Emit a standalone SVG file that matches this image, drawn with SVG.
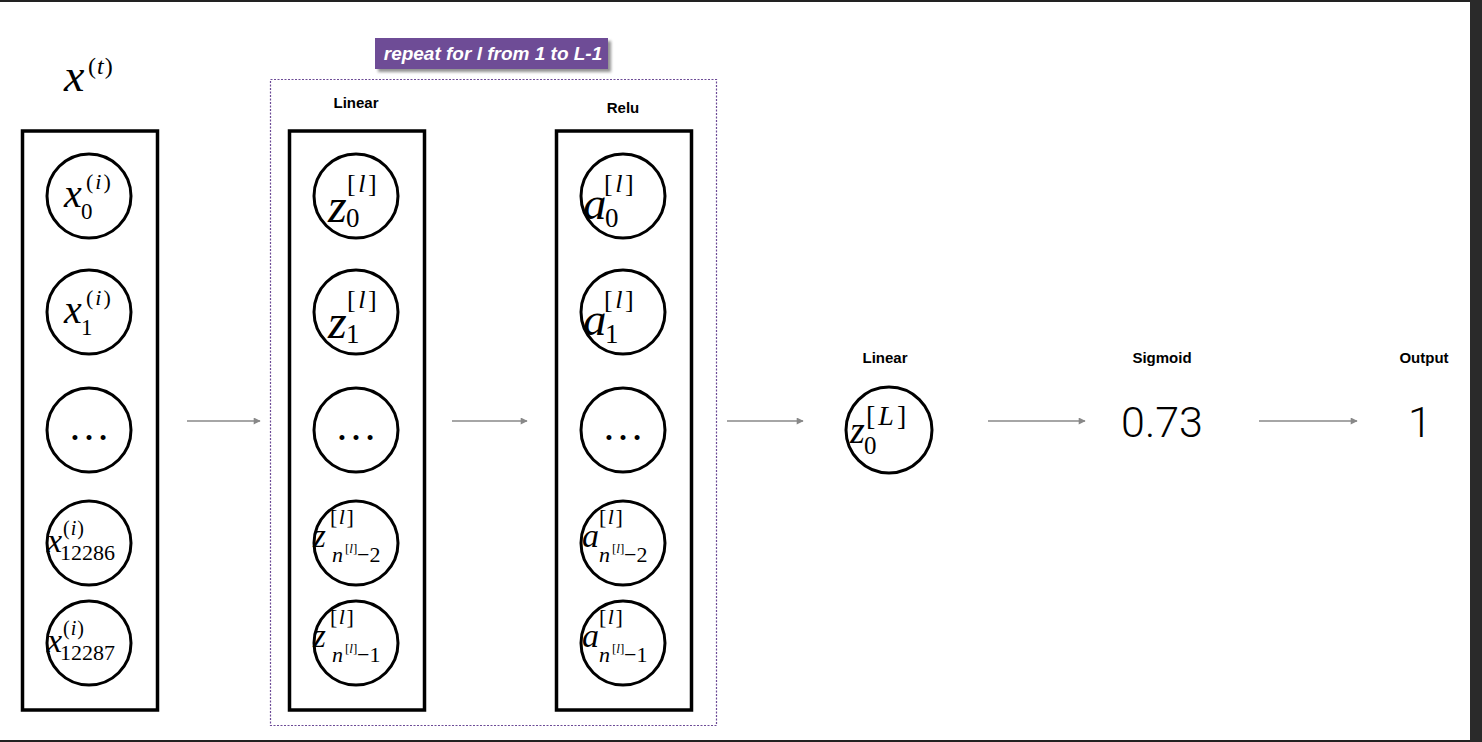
<svg xmlns="http://www.w3.org/2000/svg" width="1482" height="742" viewBox="0 0 1482 742">
<style>
.box{fill:none;stroke:#000;stroke-width:3.5}
.nd{fill:#fff;stroke:#000;stroke-width:3}
.lbl{font-family:"Liberation Sans",Arial,sans-serif;font-weight:bold;font-size:15px;fill:#000;text-anchor:middle}
.m{font-family:"Liberation Serif","Times New Roman",serif;fill:#000}
.i{font-style:italic}
.big{font-family:Roboto,"Liberation Sans",Arial,sans-serif;font-weight:300;font-size:43px;fill:#000;text-anchor:middle}
.conn line{stroke:#888;stroke-width:1.5}
</style>
<defs>
<marker id="ah" viewBox="0 0 10 10" refX="9" refY="5" markerWidth="9" markerHeight="7" markerUnits="userSpaceOnUse" orient="auto">
<path d="M0,0 L10,5 L0,10 z" fill="#888"/>
</marker>
<filter id="sh" x="-10%" y="-20%" width="130%" height="160%">
<feGaussianBlur stdDeviation="1.5"/>
</filter>
</defs>
<rect x="0" y="0" width="1482" height="742" fill="#fff"/>
<rect x="0" y="0" width="1482" height="2" fill="#222"/>
<rect x="0" y="740" width="1482" height="2" fill="#222"/>
<rect x="1470" y="0" width="12" height="742" fill="#2a2a2a"/>

<!-- repeat region -->
<g id="repeat">
<rect x="270.5" y="79.5" width="446" height="646" fill="none" stroke="#6c4a96" stroke-width="1.2" stroke-dasharray="2,1.5"/>
<rect x="378" y="41" width="233" height="31" fill="#777" filter="url(#sh)" opacity="0.8"/>
<rect x="375" y="38" width="233" height="31" fill="#6e4c96"/>
<text x="493" y="60" font-family="Liberation Sans,Arial,sans-serif" font-weight="bold" font-style="italic" font-size="19" fill="#fff" text-anchor="middle">repeat for l from 1 to L-1</text>
</g>

<!-- input label -->
<g id="xt-label">
<text class="m i" x="64" y="91" font-size="46">x</text>
<text class="m" x="88" y="74" font-size="24" letter-spacing="1">(<tspan class="i">t</tspan>)</text>
</g>

<!-- column 1: inputs -->
<g id="input-layer">
<rect class="box" x="22.5" y="131" width="135" height="579"/>
<g id="x0"><circle class="nd" cx="89" cy="196" r="42"/>
<text class="m i" x="64" y="207" font-size="40">x</text>
<text class="m" x="86" y="189" font-size="22" letter-spacing="2">(<tspan class="i">i</tspan>)</text>
<text class="m" x="81" y="219" font-size="23">0</text></g>
<g id="x1"><circle class="nd" cx="89" cy="312" r="42"/>
<text class="m i" x="64" y="323" font-size="40">x</text>
<text class="m" x="86" y="305" font-size="22" letter-spacing="2">(<tspan class="i">i</tspan>)</text>
<text class="m" x="81" y="335" font-size="23">1</text></g>
<g id="xdots"><circle class="nd" cx="89" cy="430" r="42"/>
<text class="m" x="89" y="440" font-size="42" text-anchor="middle">…</text></g>
<g id="x12286"><circle class="nd" cx="89" cy="543" r="42"/>
<text class="m i" x="47" y="552" font-size="34">x</text>
<text class="m" x="63" y="535" font-size="20" letter-spacing="1">(<tspan class="i">i</tspan>)</text>
<text class="m" x="60" y="560" font-size="22">12286</text></g>
<g id="x12287"><circle class="nd" cx="89" cy="643" r="42"/>
<text class="m i" x="47" y="652" font-size="34">x</text>
<text class="m" x="63" y="635" font-size="20" letter-spacing="1">(<tspan class="i">i</tspan>)</text>
<text class="m" x="60" y="660" font-size="22">12287</text></g>
</g>

<!-- column 2: linear -->
<g id="linear-layer">
<text class="lbl" x="356" y="108">Linear</text>
<rect class="box" x="289.5" y="131" width="135" height="579"/>
<g id="z0"><circle class="nd" cx="356" cy="196" r="42"/>
<text class="m i" x="328" y="222" font-size="48">z</text>
<text class="m" x="347" y="192" font-size="26" letter-spacing="2.5">[<tspan class="i">l</tspan>]</text>
<text class="m" x="346" y="227" font-size="27">0</text></g>
<g id="z1"><circle class="nd" cx="356" cy="312" r="42"/>
<text class="m i" x="328" y="338" font-size="48">z</text>
<text class="m" x="347" y="308" font-size="26" letter-spacing="2.5">[<tspan class="i">l</tspan>]</text>
<text class="m" x="346" y="343" font-size="27">1</text></g>
<g id="zdots"><circle class="nd" cx="356" cy="430" r="42"/>
<text class="m" x="356" y="440" font-size="42" text-anchor="middle">…</text></g>
<g id="zn2"><circle class="nd" cx="356" cy="543" r="42"/>
<text class="m i" x="313" y="547" font-size="33">z</text>
<text class="m" x="330" y="524" font-size="22" letter-spacing="1.5">[<tspan class="i">l</tspan>]</text>
<text class="m i" x="332" y="562" font-size="22">n</text>
<text class="m" x="345" y="553" font-size="13">[<tspan class="i">l</tspan>]</text>
<text class="m" x="357" y="562" font-size="22">−2</text></g>
<g id="zn1"><circle class="nd" cx="356" cy="643" r="42"/>
<text class="m i" x="313" y="647" font-size="33">z</text>
<text class="m" x="330" y="624" font-size="22" letter-spacing="1.5">[<tspan class="i">l</tspan>]</text>
<text class="m i" x="332" y="662" font-size="22">n</text>
<text class="m" x="345" y="653" font-size="13">[<tspan class="i">l</tspan>]</text>
<text class="m" x="357" y="662" font-size="22">−1</text></g>
</g>

<!-- column 3: relu -->
<g id="relu-layer">
<text class="lbl" x="623" y="113">Relu</text>
<rect class="box" x="556.5" y="131" width="135" height="579"/>
<g id="a0"><circle class="nd" cx="623" cy="196" r="42"/>
<text class="m i" x="583" y="219" font-size="47">a</text>
<text class="m" x="604" y="192" font-size="26" letter-spacing="2.5">[<tspan class="i">l</tspan>]</text>
<text class="m" x="605" y="227" font-size="27">0</text></g>
<g id="a1"><circle class="nd" cx="623" cy="312" r="42"/>
<text class="m i" x="583" y="335" font-size="47">a</text>
<text class="m" x="604" y="308" font-size="26" letter-spacing="2.5">[<tspan class="i">l</tspan>]</text>
<text class="m" x="605" y="343" font-size="27">1</text></g>
<g id="adots"><circle class="nd" cx="623" cy="430" r="42"/>
<text class="m" x="623" y="440" font-size="42" text-anchor="middle">…</text></g>
<g id="an2"><circle class="nd" cx="623" cy="543" r="42"/>
<text class="m i" x="582" y="547" font-size="34">a</text>
<text class="m" x="599" y="524" font-size="22" letter-spacing="1.5">[<tspan class="i">l</tspan>]</text>
<text class="m i" x="599" y="562" font-size="22">n</text>
<text class="m" x="612" y="553" font-size="13">[<tspan class="i">l</tspan>]</text>
<text class="m" x="624" y="562" font-size="22">−2</text></g>
<g id="an1"><circle class="nd" cx="623" cy="643" r="42"/>
<text class="m i" x="582" y="647" font-size="34">a</text>
<text class="m" x="599" y="624" font-size="22" letter-spacing="1.5">[<tspan class="i">l</tspan>]</text>
<text class="m i" x="599" y="662" font-size="22">n</text>
<text class="m" x="612" y="653" font-size="13">[<tspan class="i">l</tspan>]</text>
<text class="m" x="624" y="662" font-size="22">−1</text></g>
</g>

<!-- final linear -->
<g id="final-linear">
<text class="lbl" x="885" y="363">Linear</text>
<circle class="nd" cx="889" cy="430" r="43"/>
<text class="m i" x="850" y="443" font-size="38">z</text>
<text class="m" x="866" y="425" font-size="28" letter-spacing="3">[<tspan class="i">L</tspan>]</text>
<text class="m" x="864" y="454" font-size="25">0</text>
</g>

<g id="sigmoid">
<text class="lbl" x="1162" y="363">Sigmoid</text>
<text class="big" x="1162" y="437">0.73</text>
</g>

<g id="output">
<text class="lbl" x="1424" y="363">Output</text>
<text class="big" x="1420" y="437">1</text>
</g>

<g id="connectors" class="conn">
<line x1="187" y1="421" x2="260" y2="421" marker-end="url(#ah)"/>
<line x1="452" y1="421" x2="527" y2="421" marker-end="url(#ah)"/>
<line x1="727" y1="421" x2="803" y2="421" marker-end="url(#ah)"/>
<line x1="988" y1="421" x2="1085" y2="421" marker-end="url(#ah)"/>
<line x1="1259" y1="421" x2="1357" y2="421" marker-end="url(#ah)"/>
</g>
</svg>
